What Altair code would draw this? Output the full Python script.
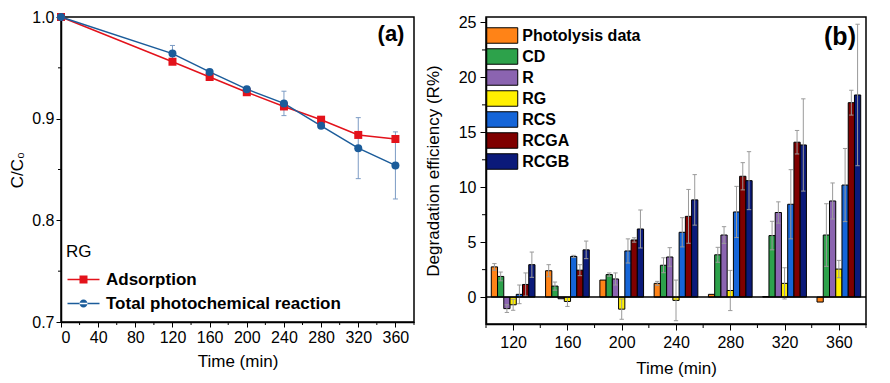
import altair as alt
import pandas as pd

# ---------------- Panel (a) data ----------------
times_a = [0, 120, 160, 200, 240, 280, 320, 360]
adsorption = [1.0, 0.956, 0.941, 0.926, 0.912, 0.899, 0.884, 0.880]
total = [1.0, 0.964, 0.946, 0.929, 0.915, 0.893, 0.871, 0.854]
total_err = [0, 0.008, 0, 0, 0.012, 0, 0.030, 0.033]
series_a = ["Adsorption", "Total photochemical reaction"]
colors_a = ["#E3121B", "#1B5C9A"]
xmajor_a = [0, 40, 80, 120, 160, 200, 240, 280, 320, 360]
xminor_a = [20, 60, 100, 140, 180, 220, 260, 300, 340, 380]
ymajor_a = [0.7, 0.8, 0.9, 1.0]
yminor_a = [0.75, 0.85, 0.95]

# ---------------- Panel (b) data ----------------
times_b = [120, 160, 200, 240, 280, 320, 360]
series_b = ["Photolysis data", "CD", "R", "RG", "RCS", "RCGA", "RCGB"]
colors_b = ["#FF8317", "#2DA24B", "#8B64B0", "#FFF000", "#1565D8", "#7F0000", "#0B1A7A"]
photolysis = [2.75, 2.4, 1.55, 1.25, 0.25, 0.05, -0.45]
photolysis_err = [0.3, 0.55, 0, 0.18, 0, 0, 0]
cd = [1.88, 1.0, 2.05, 2.9, 3.85, 5.6, 5.65]
cd_err = [0.4, 0.37, 0.15, 0.68, 0.68, 1.3, 2.85]
r = [-1.05, -0.15, 1.65, 3.65, 5.65, 7.7, 8.75]
r_err = [0.35, 0, 0.55, 0.85, 0.76, 0.97, 1.64]
rg = [-0.7, -0.4, -1.1, -0.3, 0.6, 1.25, 2.55]
rg_err = [0.5, 0.45, 0.92, 1.85, 1.83, 1.42, 0.79]
rcs = [0.25, 3.7, 4.2, 5.9, 7.75, 8.45, 10.2]
rcs_err = [0.85, 0.1, 1.1, 1.33, 2.33, 3.15, 3.33]
rcga = [1.15, 2.45, 5.2, 7.35, 11.0, 14.1, 17.7]
rcga_err = [1.05, 0.5, 0.2, 2.45, 1.24, 1.07, 1.13]
rcgb = [2.95, 4.3, 6.2, 8.85, 10.6, 13.85, 18.4]
rcgb_err = [1.15, 0.8, 1.73, 2.3, 2.64, 4.2, 6.44]
xmajor_b = [120, 160, 200, 240, 280, 320, 360]
xminor_b = [100, 140, 180, 220, 260, 300, 340, 380]
ymajor_b = [0, 5, 10, 15, 20, 25]
yminor_b = [2.5, 7.5, 12.5, 17.5, 22.5]

FONT = "Liberation Sans"

# ---------------- Build tables ----------------
df_a = pd.DataFrame({
    "time": times_a * 2,
    "value": adsorption + total,
    "series": [series_a[0]] * len(times_a) + [series_a[1]] * len(times_a),
})
df_a_err = pd.DataFrame({"time": times_a, "value": total, "err": total_err})
df_a_err = df_a_err[df_a_err["err"] > 0].copy()
df_a_err["lo"] = df_a_err["value"] - df_a_err["err"]
df_a_err["hi"] = df_a_err["value"] + df_a_err["err"]

vals_b = [photolysis, cd, r, rg, rcs, rcga, rcgb]
errs_b = [photolysis_err, cd_err, r_err, rg_err, rcs_err, rcga_err, rcgb_err]
rows = []
for i, (s, v, e) in enumerate(zip(series_b, vals_b, errs_b)):
    for t, vv, ee in zip(times_b, v, e):
        rows.append({"time": t, "series": s, "idx": i, "value": vv, "err": ee})
df_b = pd.DataFrame(rows)

BW = 4.6  # bar width in time units
HA, HB = 305, 307

# ---------------- Panel (a) chart ----------------
xs_a = alt.Scale(domain=[0, 380], nice=False, zero=False)
ys_a = alt.Scale(domain=[0.7, 1.0], nice=False, zero=False)
xax_a = alt.Axis(title="Time (min)", values=xmajor_a, tickSize=5,
                 labelPadding=2, titlePadding=8, labelOverlap=False)
yax_a = alt.Axis(title="C/C₀", values=ymajor_a, format=".1f", tickSize=5,
                 labelPadding=2, titlePadding=5, labelOverlap=False)
XA = lambda f: alt.X(f, scale=xs_a, axis=xax_a)
YA = lambda f: alt.Y(f, scale=ys_a, axis=yax_a)

SQ = "M-4,-0.19H4V0.19H-4Z M-1,-1H1V1H-1Z"
CI = "M-4,-0.19H4V0.19H-4Z M-1,0A1,1 0 1,0 1,0A1,1 0 1,0 -1,0Z"
legend_a = alt.Legend(
    title=None, orient="none", legendX=7, legendY=254, padding=0,
    labelFont=FONT, labelFontSize=17, labelFontWeight="bold", labelColor="black",
    symbolSize=64, symbolStrokeWidth=0, symbolOffset=7, labelOffset=14,
    rowPadding=6, symbolOpacity=1)

layers_a = []
for s, c in zip(series_a, colors_a):
    sub = alt.Chart(df_a).transform_filter(alt.datum.series == s)
    layers_a.append(sub.mark_line(strokeWidth=1.5, color=c).encode(x=XA("time:Q"), y=YA("value:Q")))
err_a = alt.Chart(df_a_err).mark_rule(color="#7C9BC4", strokeWidth=1).encode(
    x=XA("time:Q"), y=YA("lo:Q"), y2="hi:Q")
caps_a = alt.Chart(df_a_err).transform_fold(["lo", "hi"], as_=["end", "yv"]).transform_calculate(
    xa="datum.time - 2.7", xb="datum.time + 2.7").mark_rule(color="#7C9BC4", strokeWidth=1).encode(
    x=XA("xa:Q"), x2="xb:Q", y=YA("yv:Q"))
layers_a += [err_a, caps_a]
for s, c, shp in zip(series_a, colors_a, ["square", "circle"]):
    sub = alt.Chart(df_a).transform_filter(alt.datum.series == s)
    layers_a.append(sub.mark_point(filled=True, opacity=1, size=64, shape=shp, color=c).encode(
        x=XA("time:Q"), y=YA("value:Q")))
# legend-only layer (no rows): symbols are line + marker
leg_a = alt.Chart(pd.DataFrame({"series": pd.Series([], dtype=str)})).mark_point(filled=True, opacity=1).encode(
    fill=alt.Fill("series:N", scale=alt.Scale(domain=series_a, range=colors_a), legend=legend_a),
    shape=alt.Shape("series:N", scale=alt.Scale(domain=series_a, range=[SQ, CI]), legend=legend_a),
)
mx_a = alt.Chart(pd.DataFrame({"t": xminor_a})).mark_rule(color="black", strokeWidth=1).encode(
    x=XA("t:Q"), y=alt.value(HA), y2=alt.value(HA + 3))
my_a = alt.Chart(pd.DataFrame({"v": yminor_a})).mark_rule(color="black", strokeWidth=1).encode(
    y=YA("v:Q"), x=alt.value(0), x2=alt.value(-3))
lab_a = alt.Chart(pd.DataFrame({"t": ["(a)"]})).mark_text(
    font=FONT, fontSize=22, fontWeight="bold", color="black", align="center", baseline="middle").encode(
    text="t:N", x=alt.value(330), y=alt.value(17))
rg_a = alt.Chart(pd.DataFrame({"t": ["RG"]})).mark_text(
    font=FONT, fontSize=17, color="black", align="left", baseline="middle").encode(
    text="t:N", x=alt.value(5), y=alt.value(235))
layers_a += [leg_a, mx_a, my_a, lab_a, rg_a]

left = alt.layer(*layers_a).properties(width=353, height=HA)

# ---------------- Panel (b) chart ----------------
xs_b = alt.Scale(domain=[100, 380], nice=False, zero=False)
ys_b = alt.Scale(domain=[-2.45, 25.5], nice=False, zero=False)
xax_b = alt.Axis(title="Time (min)", values=xmajor_b, tickSize=6,
                 labelPadding=4, titlePadding=10, labelOverlap=False)
yax_b = alt.Axis(title="Degradation efficiency (R%)", values=ymajor_b, tickSize=6,
                 labelPadding=4, titlePadding=16, labelOverlap=False)
XB = lambda f: alt.X(f, scale=xs_b, axis=xax_b)
YB = lambda f: alt.Y(f, scale=ys_b, axis=yax_b)

legend_b = alt.Legend(
    title=None, orient="none", legendX=0, legendY=10, padding=0,
    labelFont=FONT, labelFontSize=16, labelFontWeight="bold", labelColor="black",
    symbolType="M-2,-1H2V1H-2Z", symbolSize=240, symbolStrokeColor="black", symbolStrokeWidth=1,
    symbolOffset=7.75, labelOffset=11.5, rowPadding=0, symbolOpacity=1)

base_b = alt.Chart(df_b).transform_calculate(
    x0="datum.time + (datum.idx - 3.5) * %s" % BW,
    x1="datum.time + (datum.idx - 2.5) * %s" % BW,
    xc="datum.time + (datum.idx - 3) * %s" % BW,
    ca="datum.time + (datum.idx - 3) * %s - 1.6" % BW,
    cb="datum.time + (datum.idx - 3) * %s + 1.6" % BW,
    zero="0",
    lo="datum.value - datum.err",
    hi="datum.value + datum.err",
)
bars_b = base_b.mark_rect(stroke="black", strokeWidth=1).encode(
    x=XB("x0:Q"), x2="x1:Q", y=YB("value:Q"), y2="zero:Q",
    color=alt.Color("series:N", scale=alt.Scale(domain=series_b, range=colors_b), legend=legend_b),
)
eb = base_b.transform_filter("datum.err > 0")
err_b = eb.mark_rule(color="#9A9A9A", strokeWidth=1).encode(x=XB("xc:Q"), y=YB("lo:Q"), y2="hi:Q")
caps_b = eb.transform_fold(["lo", "hi"], as_=["end", "yv"]).mark_rule(color="#9A9A9A", strokeWidth=1).encode(
    x=XB("ca:Q"), x2="cb:Q", y=YB("yv:Q"))
zero_b = alt.Chart(pd.DataFrame({"z": [0]})).mark_rule(color="black", strokeWidth=1.5).encode(y=YB("z:Q"))
mx_b = alt.Chart(pd.DataFrame({"t": xminor_b})).mark_rule(color="black", strokeWidth=1).encode(
    x=XB("t:Q"), y=alt.value(HB), y2=alt.value(HB + 4))
my_b = alt.Chart(pd.DataFrame({"v": yminor_b})).mark_rule(color="black", strokeWidth=1).encode(
    y=YB("v:Q"), x=alt.value(0), x2=alt.value(-4))
lab_b = alt.Chart(pd.DataFrame({"t": ["(b)"]})).mark_text(
    font=FONT, fontSize=25, fontWeight="bold", color="black", align="center", baseline="middle").encode(
    text="t:N", x=alt.value(354), y=alt.value(20))

right = alt.layer(bars_b, err_b, caps_b, zero_b, mx_b, my_b, lab_b).properties(width=380, height=HB)

chart = alt.hconcat(left, right, spacing=7).resolve_scale(
    color="independent", fill="independent", shape="independent"
).properties(padding=0).configure_view(
    stroke="black", strokeWidth=1.5
).configure_axis(
    labelFont=FONT, labelFontSize=16, labelColor="black", labelOverlap=False,
    titleFont=FONT, titleFontSize=17, titleFontWeight="normal", titleColor="black",
    domainColor="black", domainWidth=1.5, tickColor="black", tickWidth=1, grid=False,
).configure_legend(labelLimit=400)

chart.save("out.html", embed_options={"renderer": "svg", "actions": False})
